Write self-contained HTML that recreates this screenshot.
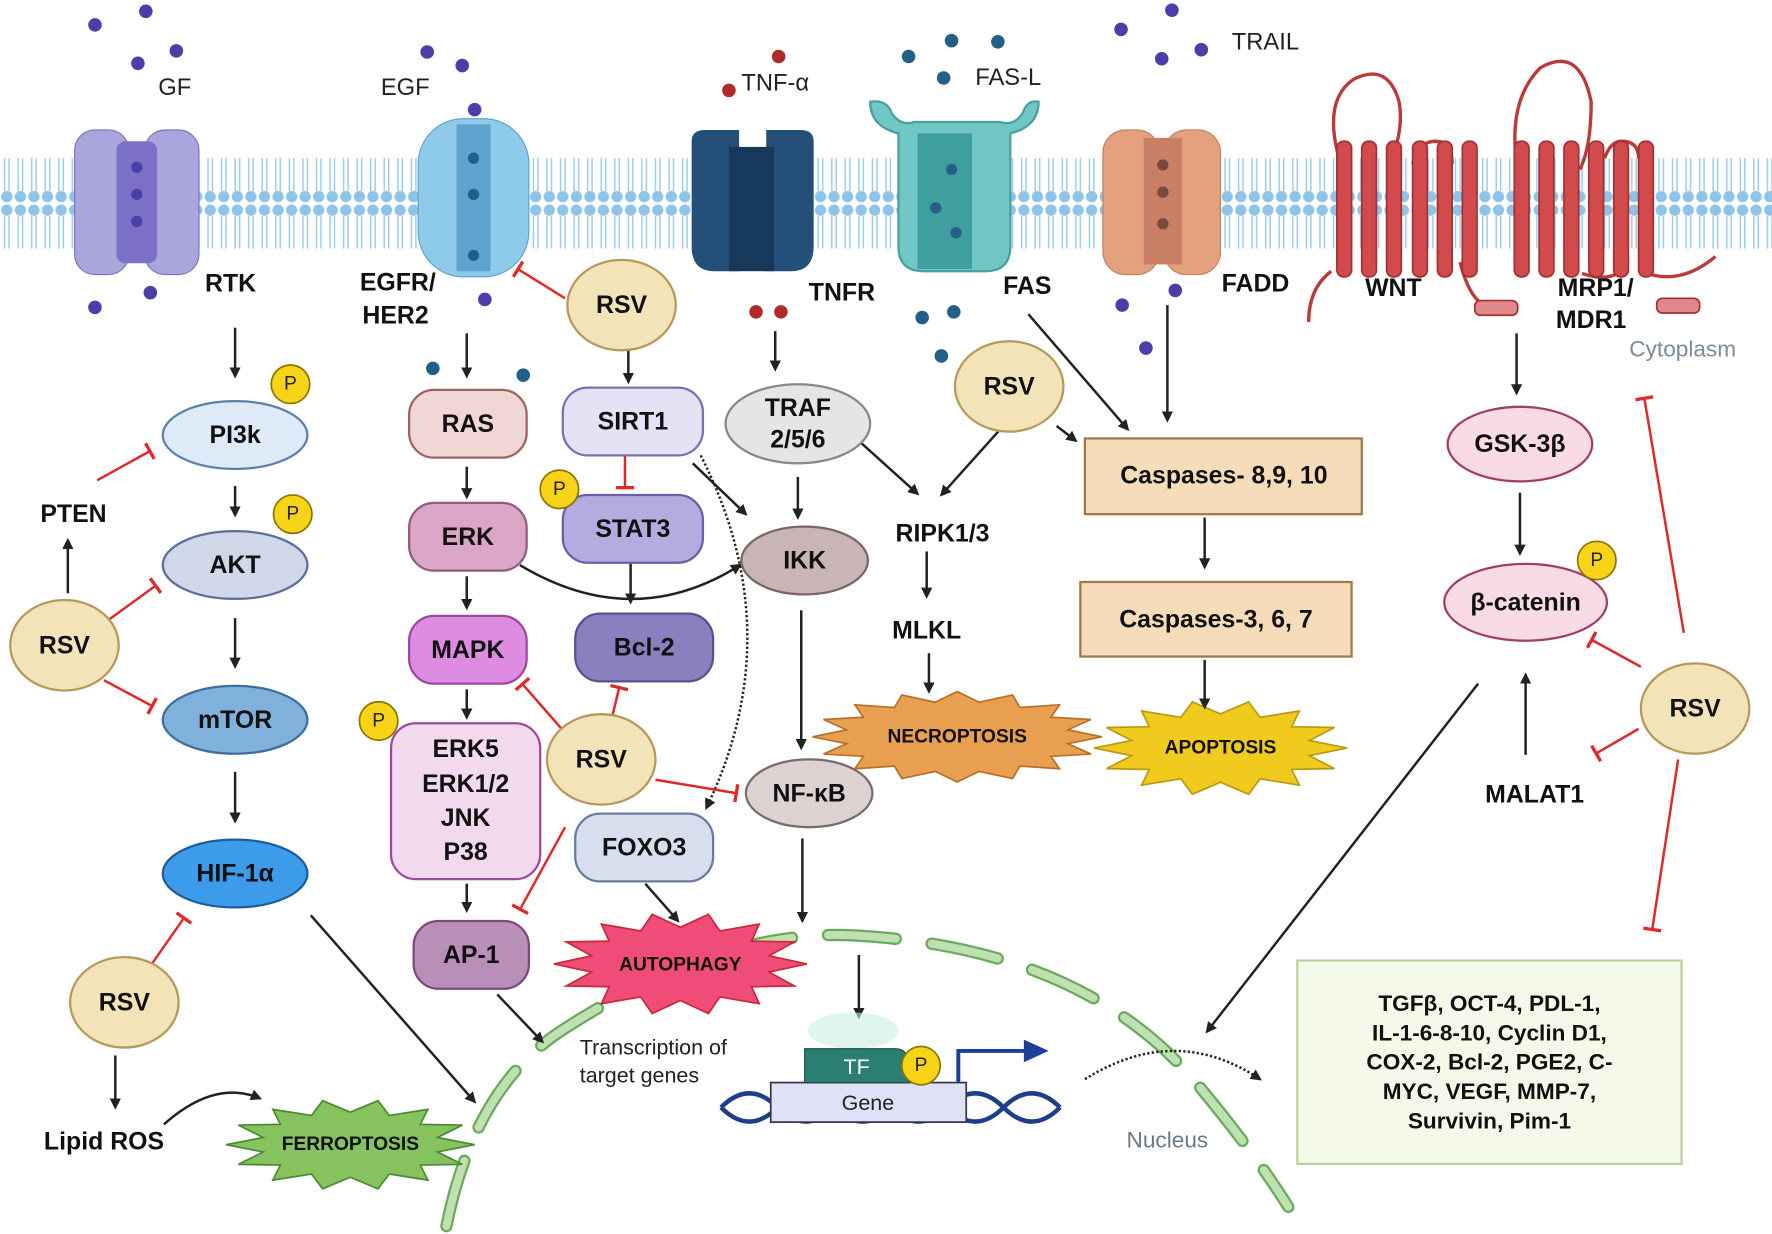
<!DOCTYPE html>
<html><head><meta charset="utf-8"><style>
html,body{margin:0;padding:0;background:#fff;width:1772px;height:1234px;overflow:hidden}
svg text{font-family:"Liberation Sans",sans-serif}
.b{font-weight:bold;font-size:22px;fill:#111;text-anchor:middle;dominant-baseline:central}
.n{font-size:21px;fill:#222;text-anchor:middle;dominant-baseline:central}
.ar{stroke:#222;stroke-width:2.2;fill:none;marker-end:url(#ah)}
.inh{stroke:#e02a2a;stroke-width:2.2;fill:none;marker-end:url(#tb)}
.rsv{fill:#f3e3b8;stroke:#b59a5c;stroke-width:2}
</style></head><body>
<svg id="s" width="1772" height="1234" viewBox="0 0 1568 1092" xmlns="http://www.w3.org/2000/svg">
<defs>
<marker id="ah" markerWidth="10" markerHeight="10" refX="8" refY="5" orient="auto" markerUnits="userSpaceOnUse"><path d="M0,0 L10,5 L0,10 z" fill="#222"/></marker>
<marker id="tb" markerWidth="4" markerHeight="16" refX="2" refY="8" orient="auto" markerUnits="userSpaceOnUse"><rect x="0" y="0" width="3" height="16" fill="#e02a2a"/></marker>
<pattern id="mem" x="0" y="0" width="12" height="90" patternUnits="userSpaceOnUse">
<circle cx="6" cy="6" r="5" fill="#8fc3e8"/><line x1="4" y1="11" x2="4" y2="40" stroke="#9ccbe8" stroke-width="1.3"/><line x1="8" y1="11" x2="8" y2="40" stroke="#9ccbe8" stroke-width="1.3"/>
<line x1="4" y1="50" x2="4" y2="79" stroke="#9ccbe8" stroke-width="1.3"/><line x1="8" y1="50" x2="8" y2="79" stroke="#9ccbe8" stroke-width="1.3"/><circle cx="6" cy="84" r="5" fill="#8fc3e8"/>
</pattern>
</defs>
<rect width="1568" height="1092" fill="#fff"/>
<rect x="0" y="137" width="1568" height="90" fill="url(#mem)"/>

<!-- ligands -->
<g fill="#4a3fa8">
<circle cx="84" cy="22" r="6"/><circle cx="129" cy="10" r="6"/><circle cx="156" cy="45" r="6"/><circle cx="122" cy="56" r="6"/>
<circle cx="378" cy="46" r="6"/><circle cx="409" cy="58" r="6"/><circle cx="420" cy="97" r="6"/><circle cx="429" cy="265" r="6"/>
<circle cx="84" cy="272" r="6"/><circle cx="133" cy="259" r="6"/>
<circle cx="992" cy="26" r="6"/><circle cx="1037" cy="9" r="6"/><circle cx="1028" cy="52" r="6"/><circle cx="1063" cy="44" r="6"/>
<circle cx="993" cy="270" r="6"/><circle cx="1040" cy="257" r="6"/><circle cx="1014" cy="308" r="6"/>
</g>
<g fill="#245f88"><circle cx="383" cy="326" r="6"/><circle cx="463" cy="332" r="6"/>
<circle cx="804" cy="50" r="6"/><circle cx="842" cy="36" r="6"/><circle cx="883" cy="37" r="6"/><circle cx="835" cy="69" r="6"/>
<circle cx="816" cy="281" r="6"/><circle cx="844" cy="276" r="6"/><circle cx="833" cy="315" r="6"/></g>
<g fill="#b02a2a"><circle cx="689" cy="50" r="6"/><circle cx="645" cy="80" r="6"/><circle cx="669" cy="276" r="6"/><circle cx="691" cy="276" r="6"/></g>
<text x="140" y="84" font-size="21" fill="#222">GF</text>
<text x="337" y="84" font-size="21" fill="#222">EGF</text>
<text x="656" y="80" font-size="21" fill="#222">TNF-α</text>
<text x="863" y="75" font-size="21" fill="#222">FAS-L</text>
<text x="1090" y="44" font-size="21" fill="#222">TRAIL</text>

<!-- RTK -->
<rect x="66" y="115" width="48" height="128" rx="18" fill="#aaa5dd" stroke="#7a70c0"/>
<rect x="128" y="115" width="48" height="128" rx="18" fill="#aaa5dd" stroke="#7a70c0"/>
<rect x="103" y="125" width="36" height="108" rx="8" fill="#7b70c6"/>
<g fill="#4a3fa8"><circle cx="121" cy="148" r="5"/><circle cx="121" cy="172" r="5"/><circle cx="121" cy="196" r="5"/></g>
<!-- EGFR -->
<rect x="370" y="105" width="98" height="140" rx="40" fill="#8ecbea" stroke="#5c9fcc"/>
<rect x="404" y="110" width="30" height="130" fill="#5fa2cf"/>
<g fill="#245f88"><circle cx="419" cy="140" r="5"/><circle cx="419" cy="172" r="5"/><circle cx="419" cy="226" r="5"/></g>
<!-- TNFR -->
<path d="M612,125 q0,-10 12,-10 h30 v125 h-22 q-20,0 -20,-22 z" fill="#234f79"/>
<path d="M720,125 q0,-10 -12,-10 h-30 v125 h22 q20,0 20,-22 z" fill="#234f79"/>
<rect x="645" y="130" width="40" height="110" fill="#16385b"/>
<!-- FAS -->
<path d="M770,90 q0,22 25,28 v100 q0,22 22,22 h55 q22,0 22,-22 v-100 q25,-6 25,-28 q-10,-2 -14,10 q-8,12 -20,8 h-76 q-12,4 -20,-8 q-4,-12 -19,-10 z" fill="#70c7c6" stroke="#4aa0a0" stroke-width="2"/>
<rect x="812" y="118" width="48" height="120" fill="#3f9e9e"/>
<g fill="#245f88"><circle cx="842" cy="150" r="5"/><circle cx="828" cy="184" r="5"/><circle cx="846" cy="206" r="5"/></g>
<!-- FADD -->
<rect x="976" y="115" width="50" height="128" rx="20" fill="#e3a27d" stroke="#c07e5c"/>
<rect x="1030" y="115" width="50" height="128" rx="20" fill="#e3a27d" stroke="#c07e5c"/>
<rect x="1012" y="122" width="34" height="112" fill="#c97e66"/>
<g fill="#7a4a40"><circle cx="1029" cy="146" r="5"/><circle cx="1029" cy="170" r="5"/><circle cx="1029" cy="198" r="5"/></g>
<!-- WNT/MRP1 -->
<g stroke="#b83c3e" stroke-width="3" fill="none">
<path d="M1158,285 q0,-30 20,-45 M1188,150 q-20,-60 10,-80 q30,-15 40,20 q5,25 -10,60 M1250,145 q5,-20 20,-20 q15,0 15,20 M1292,232 q10,40 30,40 M1400,242 q30,10 40,-10 M1458,242 q30,10 60,-15 M1343,150 q-10,-60 20,-90 q35,-20 45,30 q0,40 -10,60 M1420,140 q5,-15 15,-15 q15,0 15,15"/>
</g>
<g fill="#d24a4c" stroke="#a03234" stroke-width="1.5">
<rect x="1183" y="125" width="13" height="120" rx="6"/><rect x="1205" y="125" width="13" height="120" rx="6"/><rect x="1227" y="125" width="13" height="120" rx="6"/><rect x="1250" y="125" width="13" height="120" rx="6"/><rect x="1272" y="125" width="13" height="120" rx="6"/><rect x="1294" y="125" width="13" height="120" rx="6"/>
<rect x="1340" y="125" width="13" height="120" rx="6"/><rect x="1362" y="125" width="13" height="120" rx="6"/><rect x="1384" y="125" width="13" height="120" rx="6"/><rect x="1406" y="125" width="13" height="120" rx="6"/><rect x="1428" y="125" width="13" height="120" rx="6"/><rect x="1450" y="125" width="13" height="120" rx="6"/>
<rect x="1305" y="266" width="38" height="13" rx="5" fill="#e0888a"/><rect x="1466" y="264" width="38" height="13" rx="5" fill="#e0888a"/>
</g>

<!-- receptor labels -->
<g class="b">
<text x="204" y="251">RTK</text><text x="352" y="250">EGFR/</text><text x="350" y="279">HER2</text>
<text x="745" y="259">TNFR</text><text x="909" y="253">FAS</text><text x="1111" y="251">FADD</text>
<text x="1233" y="255">WNT</text><text x="1412" y="255">MRP1/</text><text x="1408" y="283">MDR1</text>
</g>
<text x="1489" y="309" font-size="20" fill="#7a8a9a" text-anchor="middle" dominant-baseline="central">Cytoplasm</text>

<!-- nucleus -->
<path d="M395,1085 Q420,960 500,910 Q640,820 760,828 Q960,840 1060,960 Q1110,1020 1140,1068" fill="none" stroke="#6aaa5c" stroke-width="11" stroke-dasharray="60 32" stroke-linecap="round"/>
<path d="M395,1085 Q420,960 500,910 Q640,820 760,828 Q960,840 1060,960 Q1110,1020 1140,1068" fill="none" stroke="#bfe0b0" stroke-width="7" stroke-dasharray="60 32" stroke-linecap="round"/>

<!-- stars -->
<polygon id="st1" fill="#f04c78" stroke="#c82838" stroke-width="1.5"/>
<polygon id="st2" fill="#e8a050" stroke="#b87028" stroke-width="1.5"/>
<polygon id="st3" fill="#f0cb1e" stroke="#b89a10" stroke-width="1.5"/>
<polygon id="st4" fill="#86c25e" stroke="#4a8a30" stroke-width="1.5"/>
<g class="b" style="font-size:17px"><text x="602" y="854">AUTOPHAGY</text><text x="847" y="652">NECROPTOSIS</text><text x="1080" y="662">APOPTOSIS</text><text x="310" y="1013">FERROPTOSIS</text></g>

<!-- arrows -->
<g class="ar">
<line x1="208" y1="290" x2="208" y2="333"/><line x1="208" y1="430" x2="208" y2="456"/><line x1="208" y1="547" x2="208" y2="590"/><line x1="208" y1="683" x2="208" y2="727"/>
<line x1="60" y1="525" x2="60" y2="478"/>
<line x1="102" y1="934" x2="102" y2="980"/>
<path d="M145,995 Q190,955 230,972"/>
<line x1="275" y1="810" x2="420" y2="975"/>
<line x1="413" y1="295" x2="413" y2="333"/><line x1="413" y1="413" x2="413" y2="440"/><line x1="413" y1="510" x2="413" y2="538"/><line x1="413" y1="610" x2="413" y2="635"/><line x1="413" y1="782" x2="413" y2="806"/>
<line x1="440" y1="880" x2="480" y2="922"/>
<path d="M460,500 Q560,560 655,500"/>
<line x1="556" y1="298" x2="556" y2="338"/><line x1="558" y1="498" x2="558" y2="533"/>
<line x1="613" y1="410" x2="660" y2="455"/>
<path d="M620,403 Q700,560 625,715" stroke-dasharray="2 2"/>
<line x1="571" y1="782" x2="600" y2="815"/>
<line x1="686" y1="293" x2="686" y2="327"/>
<line x1="706" y1="422" x2="706" y2="458"/>
<line x1="709" y1="540" x2="709" y2="662"/>
<line x1="710" y1="742" x2="710" y2="815"/>
<line x1="760" y1="845" x2="760" y2="900"/>
<line x1="762" y1="392" x2="812" y2="437"/>
<line x1="885" y1="380" x2="833" y2="438"/>
<line x1="935" y1="377" x2="952" y2="390"/>
<line x1="910" y1="278" x2="998" y2="380"/>
<line x1="1033" y1="270" x2="1033" y2="372"/>
<line x1="820" y1="488" x2="820" y2="528"/><line x1="822" y1="578" x2="822" y2="612"/>
<line x1="1066" y1="458" x2="1066" y2="502"/><line x1="1066" y1="584" x2="1066" y2="626"/>
<line x1="1342" y1="295" x2="1342" y2="348"/><line x1="1345" y1="436" x2="1345" y2="490"/>
<line x1="1350" y1="668" x2="1350" y2="597"/>
<line x1="1308" y1="605" x2="1068" y2="913"/>
<path d="M960,955 Q1040,905 1115,955" stroke-dasharray="2 2"/>
</g>

<!-- inhibitions -->
<g class="inh">
<line x1="86" y1="425" x2="133" y2="399"/>
<line x1="90" y1="553" x2="138" y2="518"/>
<line x1="92" y1="602" x2="135" y2="625"/>
<line x1="135" y1="852" x2="163" y2="812"/>
<line x1="500" y1="264" x2="458" y2="238"/>
<line x1="553" y1="398" x2="553" y2="432"/>
<line x1="497" y1="645" x2="462" y2="605"/>
<line x1="542" y1="633" x2="548" y2="608"/>
<line x1="580" y1="690" x2="652" y2="702"/>
<line x1="500" y1="732" x2="460" y2="805"/>
<line x1="1452" y1="590" x2="1408" y2="566"/>
<line x1="1450" y1="645" x2="1412" y2="667"/>
<line x1="1490" y1="560" x2="1455" y2="352"/>
<line x1="1485" y1="672" x2="1462" y2="823"/>
</g>

<!-- nodes -->
<g stroke-width="2">
<ellipse cx="208" cy="385" rx="64" ry="30" fill="#deeaf7" stroke="#5b80aa"/>
<ellipse cx="208" cy="500" rx="64" ry="30" fill="#cfd8e9" stroke="#5b6f99"/>
<ellipse cx="208" cy="637" rx="64" ry="30" fill="#7fb1dc" stroke="#3d6e9c"/>
<ellipse cx="208" cy="773" rx="64" ry="30" fill="#3d9cea" stroke="#1e5d9c"/>
<rect x="362" y="345" width="104" height="60" rx="22" fill="#f1d6d6" stroke="#a06262"/>
<rect x="362" y="445" width="104" height="60" rx="22" fill="#daa6c6" stroke="#945a80"/>
<rect x="362" y="545" width="104" height="60" rx="22" fill="#de8ce1" stroke="#9c4aa0"/>
<rect x="346" y="640" width="132" height="138" rx="22" fill="#f3d9ee" stroke="#9c4aa0"/>
<rect x="366" y="815" width="102" height="60" rx="22" fill="#b98fb9" stroke="#7a4a7a"/>
<rect x="498" y="343" width="124" height="60" rx="22" fill="#e6e1f4" stroke="#7a70b0"/>
<rect x="498" y="438" width="124" height="60" rx="22" fill="#b4abde" stroke="#6a60a8"/>
<rect x="509" y="543" width="122" height="60" rx="22" fill="#8a80c0" stroke="#5a5090"/>
<rect x="509" y="720" width="122" height="60" rx="22" fill="#d7dfef" stroke="#6a7aa0"/>
<ellipse cx="706" cy="375" rx="64" ry="35" fill="#e5e5e5" stroke="#888"/>
<ellipse cx="712" cy="496" rx="56" ry="30" fill="#c9b5b5" stroke="#7a6666"/>
<ellipse cx="716" cy="702" rx="56" ry="30" fill="#ddd2d2" stroke="#7a6a6a"/>
<rect x="960" y="388" width="245" height="67" fill="#f6dcb9" stroke="#a0784a"/>
<rect x="956" y="515" width="240" height="66" fill="#f6dcb9" stroke="#a0784a"/>
<ellipse cx="1345" cy="393" rx="64" ry="33" fill="#f9dbe5" stroke="#a04060"/>
<ellipse cx="1350" cy="533" rx="72" ry="34" fill="#f9dbe5" stroke="#a04060"/>
<ellipse class="rsv" cx="57" cy="571" rx="48" ry="40"/>
<ellipse class="rsv" cx="110" cy="887" rx="48" ry="40"/>
<ellipse class="rsv" cx="550" cy="270" rx="48" ry="40"/>
<ellipse class="rsv" cx="893" cy="342" rx="48" ry="40"/>
<ellipse class="rsv" cx="532" cy="672" rx="48" ry="40"/>
<ellipse class="rsv" cx="1500" cy="627" rx="48" ry="40"/>
</g>
<g class="b">
<text x="208" y="385">PI3k</text><text x="208" y="500">AKT</text><text x="208" y="637">mTOR</text><text x="208" y="773">HIF-1α</text>
<text x="65" y="455">PTEN</text><text x="92" y="1010">Lipid ROS</text>
<text x="414" y="375">RAS</text><text x="414" y="475">ERK</text><text x="414" y="575">MAPK</text>
<text x="412" y="663">ERK5</text><text x="412" y="694">ERK1/2</text><text x="412" y="724">JNK</text><text x="412" y="754">P38</text>
<text x="417" y="845">AP-1</text>
<text x="560" y="373">SIRT1</text><text x="560" y="468">STAT3</text><text x="570" y="573">Bcl-2</text><text x="570" y="750">FOXO3</text>
<text x="706" y="361">TRAF</text><text x="706" y="389">2/5/6</text><text x="712" y="496">IKK</text><text x="716" y="702">NF-κB</text>
<text x="834" y="472">RIPK1/3</text><text x="820" y="558">MLKL</text>
<text x="1083" y="421">Caspases- 8,9, 10</text><text x="1076" y="548">Caspases-3, 6, 7</text>
<text x="1345" y="393">GSK-3β</text><text x="1350" y="533">β-catenin</text><text x="1358" y="703">MALAT1</text>
<text x="57" y="571">RSV</text><text x="110" y="887">RSV</text><text x="550" y="270">RSV</text><text x="893" y="342">RSV</text><text x="532" y="672">RSV</text><text x="1500" y="627">RSV</text>
</g>

<!-- P circles -->
<g fill="#f8d418" stroke="#8a7400" stroke-width="1.5">
<circle cx="257" cy="340" r="17"/><circle cx="259" cy="455" r="17"/><circle cx="335" cy="638" r="17"/><circle cx="495" cy="433" r="17"/><circle cx="1413" cy="496" r="17"/>
</g>
<g class="n" style="font-size:17px"><text x="257" y="340">P</text><text x="259" y="455">P</text><text x="335" y="638">P</text><text x="495" y="433">P</text><text x="1413" y="496">P</text></g>

<!-- gene -->
<ellipse cx="755" cy="912" rx="40" ry="16" fill="#c8f0e0" opacity="0.6"/>
<path d="M638,980 q25,-25 50,0 t50,0 t50,0 t50,0 t50,0 t50,0" fill="none" stroke="#1e3e8a" stroke-width="4"/>
<path d="M638,980 q25,25 50,0 t50,0 t50,0 t50,0 t50,0 t50,0" fill="none" stroke="#1e3e8a" stroke-width="4"/>
<rect x="682" y="958" width="173" height="35" fill="#dfe2f6" stroke="#334" stroke-width="1.5"/>
<text class="n" x="768" y="976" style="font-size:19px">Gene</text>
<path d="M712,928 h80 q12,0 12,14 v16 h-92 z" fill="#2a7e72" stroke="#1a4e44"/>
<text x="758" y="944" font-size="19" fill="#fff" text-anchor="middle" dominant-baseline="central">TF</text>
<circle cx="815" cy="943" r="17" fill="#f8d418" stroke="#8a7400" stroke-width="1.5"/>
<text class="n" x="815" y="943" style="font-size:17px">P</text>
<path d="M848,958 v-28 h60" fill="none" stroke="#1e3e9a" stroke-width="3.5"/>
<path d="M906,920 l22,10 l-22,10 z" fill="#1e3e9a"/>
<text x="513" y="933" font-size="19" fill="#222">Transcription of</text>
<text x="513" y="958" font-size="19" fill="#222">target genes</text>
<text x="1033" y="1009" font-size="20" fill="#6a7a8a" text-anchor="middle" dominant-baseline="central">Nucleus</text>

<!-- target box -->
<rect x="1148" y="850" width="340" height="180" fill="#f5f9e9" stroke="#b9d29a" stroke-width="2"/>
<g class="b" style="font-size:20px">
<text x="1318" y="888">TGFβ, OCT-4, PDL-1,</text>
<text x="1318" y="914">IL-1-6-8-10, Cyclin D1,</text>
<text x="1318" y="940">COX-2, Bcl-2, PGE2, C-</text>
<text x="1318" y="966">MYC, VEGF, MMP-7,</text>
<text x="1318" y="992">Survivin, Pim-1</text>
</g>
</svg>
<script>
function star(id,cx,cy,rx,ry,n,inner){var p=[];for(var i=0;i<2*n;i++){var a=Math.PI*i/n;var f=i%2?inner:1;p.push((cx+Math.cos(a)*rx*f).toFixed(1)+','+(cy+Math.sin(a)*ry*f).toFixed(1));}document.getElementById(id).setAttribute('points',p.join(' '));}
star('st1',602,853,112,45,14,0.72);
star('st2',847,652,128,40,16,0.78);
star('st3',1080,662,112,42,14,0.72);
star('st4',310,1013,110,40,14,0.72);
</script>
</body></html>
